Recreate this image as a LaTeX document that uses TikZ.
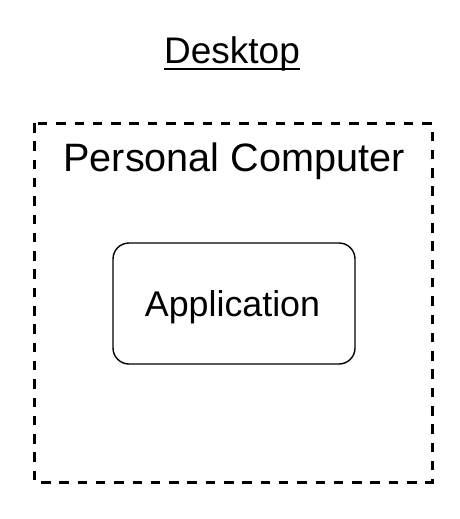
\documentclass[tikz,border=0pt]{standalone}
\usepackage{fontspec}
\setmainfont{Liberation Sans}
\begin{document}
\begin{tikzpicture}[x=1pt,y=-1pt,
  container/.style={draw=black, line width=3pt, dash pattern=on 9.5pt off 8.8pt},
  appbox/.style={draw=black, line width=1.4pt, rounded corners=16pt, minimum width=242pt, minimum height=121pt, inner sep=0pt},
  lbl/.style={inner sep=0pt, anchor=base}
]
\useasboundingbox (0,0) rectangle (459,519);
\fill[white] (0,0) rectangle (459,519);
\coordinate (boxtl) at (34,123);
\coordinate (boxbr) at (432,482);
\draw[container] (boxtl) rectangle (boxbr);
\node[lbl, font=\fontsize{37}{37}\selectfont] (title) at (232,63.5) {Desktop};
\draw[line width=2pt] ([yshift=-5.8pt]title.base west) -- ([yshift=-5.8pt]title.base east);
\node[lbl, font=\fontsize{39.6}{40}\selectfont] (pc) at (234,171) {Personal Computer};
\node[appbox] (app) at (234,303.5) {};
\node[lbl, font=\fontsize{35.8}{36}\selectfont] (applbl) at (232.5,316.7) {Application};
\end{tikzpicture}
\end{document}
